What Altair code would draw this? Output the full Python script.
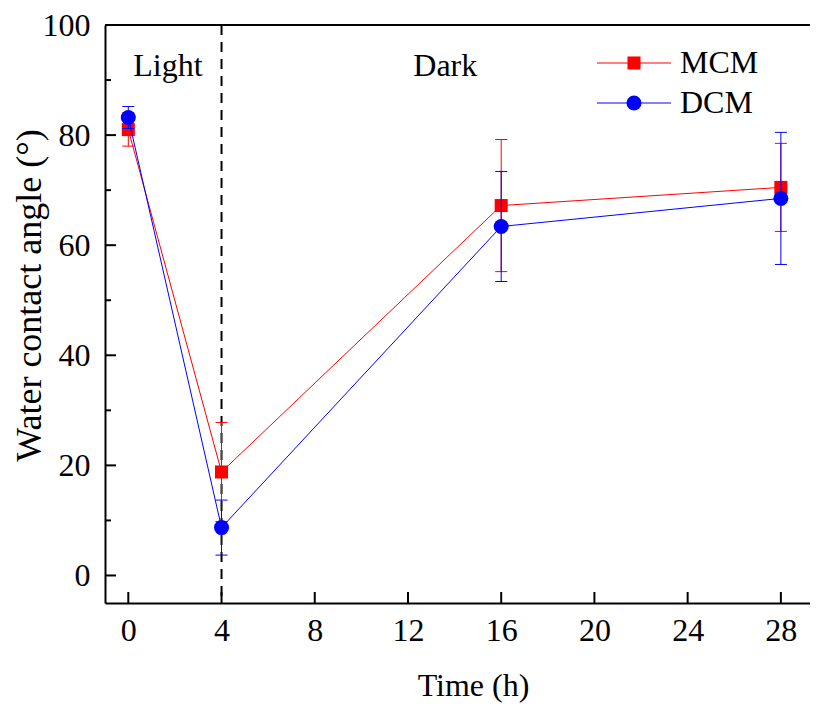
import altair as alt
import pandas as pd

# ---- data ----
time_h = [0, 4, 16, 28]
mcm_mean = [81.0, 18.8, 67.2, 70.5]
mcm_err = [3.0, 9.0, 12.0, 8.0]
dcm_mean = [83.2, 8.7, 63.4, 68.5]
dcm_err = [2.0, 5.0, 10.0, 12.0]

series_names = ["MCM", "DCM"]
series_colors = ["#ff0000", "#0000ff"]
series_shapes = ["square", "circle"]
series_sizes = [170, 225]

y_major = [0, 20, 40, 60, 80, 100]
y_minor = [10, 30, 50, 70, 90]
x_major = [0, 4, 8, 12, 16, 20, 24, 28]

phase_labels = ["Light", "Dark"]
phase_x = [1.7, 13.6]
phase_y = [92.5, 92.5]
divider_x = [4]

# ---- layout ----
W, H = 705, 578
FONT = "Liberation Serif"
FS = 32

x_scale = alt.Scale(domain=[-1, 29.25], nice=False, zero=False)
y_scale = alt.Scale(domain=[-5, 100], nice=False, zero=False)

x_axis = alt.Axis(
    title="Time (h)", values=x_major, ticks=False, tickSize=0, grid=False,
    domain=True, domainColor="black", domainWidth=2,
    labelFont=FONT, labelFontSize=FS, labelColor="black", labelPadding=12,
    labelFlush=False, format="d",
    titleFont=FONT, titleFontSize=FS, titleFontWeight="normal", titleColor="black",
    titleX=368, titleY=82, titleAlign="center", titleBaseline="middle",
)
y_axis = alt.Axis(
    title="Water contact angle (°)", values=y_major, ticks=False, tickSize=0, grid=False,
    domain=True, domainColor="black", domainWidth=2,
    labelFont=FONT, labelFontSize=FS, labelColor="black", labelPadding=15,
    labelFlush=False, format="d",
    titleFont=FONT, titleFontSize=36, titleFontWeight="normal", titleColor="black",
    titleX=-76, titleY=270, titleAngle=-90, titleAlign="center", titleBaseline="middle",
)


def X(field):
    return alt.X(field, type="quantitative", scale=x_scale, axis=x_axis)


def Y(field):
    return alt.Y(field, type="quantitative", scale=y_scale, axis=y_axis)


layers = []

# inward major / minor ticks on the y axis
layers.append(
    alt.Chart(pd.DataFrame({"v": y_major})).mark_rule(color="black", strokeWidth=2)
    .encode(y=Y("v"), x=alt.value(0), x2=alt.value(11))
)
layers.append(
    alt.Chart(pd.DataFrame({"v": y_minor})).mark_rule(color="black", strokeWidth=2)
    .encode(y=Y("v"), x=alt.value(0), x2=alt.value(6))
)
# inward ticks on the x axis
layers.append(
    alt.Chart(pd.DataFrame({"v": x_major})).mark_rule(color="black", strokeWidth=2)
    .encode(x=X("v"), y=alt.value(H), y2=alt.value(H - 11))
)
# top frame line
layers.append(
    alt.Chart(pd.DataFrame({"k": [0]})).mark_rule(color="black", strokeWidth=2)
    .encode(x=alt.value(0), x2=alt.value(W), y=alt.value(0))
)
# dashed light/dark divider
layers.append(
    alt.Chart(pd.DataFrame({"t": divider_x}))
    .mark_rule(color="black", strokeWidth=2, strokeDash=[10, 7])
    .encode(x=X("t"))
)
# phase labels
layers.append(
    alt.Chart(pd.DataFrame({"x": phase_x, "y": phase_y, "label": phase_labels}))
    .mark_text(font=FONT, fontSize=FS, color="black", align="center", baseline="middle")
    .encode(x=X("x"), y=Y("y"), text="label:N")
)

all_means = [mcm_mean, dcm_mean]
all_errs = [mcm_err, dcm_err]

for i, name in enumerate(series_names):
    df = pd.DataFrame({"t": time_h, "v": all_means[i], "e": all_errs[i]})
    base = alt.Chart(df).transform_calculate(lo="datum.v - datum.e", hi="datum.v + datum.e")
    col = series_colors[i]
    layers.append(base.mark_line(color=col, strokeWidth=1).encode(x=X("t"), y=Y("v")))
    layers.append(
        base.mark_rule(color=col, strokeWidth=1)
        .encode(x=X("t"), y=Y("lo"), y2=alt.Y2("hi:Q"))
    )
    for fld in ["lo", "hi"]:
        layers.append(
            base.mark_tick(color=col, thickness=1, size=12, orient="horizontal", opacity=1)
            .encode(x=X("t"), y=Y(fld))
        )
    layers.append(
        base.mark_point(shape=series_shapes[i], filled=True, size=series_sizes[i],
                        color=col, opacity=1)
        .encode(x=X("t"), y=Y("v"))
    )

# legend (manual: line through marker)
for i, name in enumerate(series_names):
    ly = 38 + 40 * i
    col = series_colors[i]
    one = alt.Chart(pd.DataFrame({"k": [0]}))
    layers.append(one.mark_rule(color=col, strokeWidth=1)
                  .encode(x=alt.value(492), x2=alt.value(566), y=alt.value(ly)))
    layers.append(one.mark_point(shape=series_shapes[i], filled=True, size=series_sizes[i],
                                 color=col, opacity=1)
                  .encode(x=alt.value(529), y=alt.value(ly)))
    layers.append(one.mark_text(font=FONT, fontSize=FS, color="black", align="left",
                                baseline="middle")
                  .encode(x=alt.value(575), y=alt.value(ly), text=alt.value(name)))

chart = (
    alt.layer(*layers)
    .properties(width=W, height=H, autosize="none",
                padding={"left": 97, "top": 17, "right": 0, "bottom": 100})
    .configure_view(stroke=None)
)

chart.save("out.html", embed_options={"renderer": "svg", "actions": False})
